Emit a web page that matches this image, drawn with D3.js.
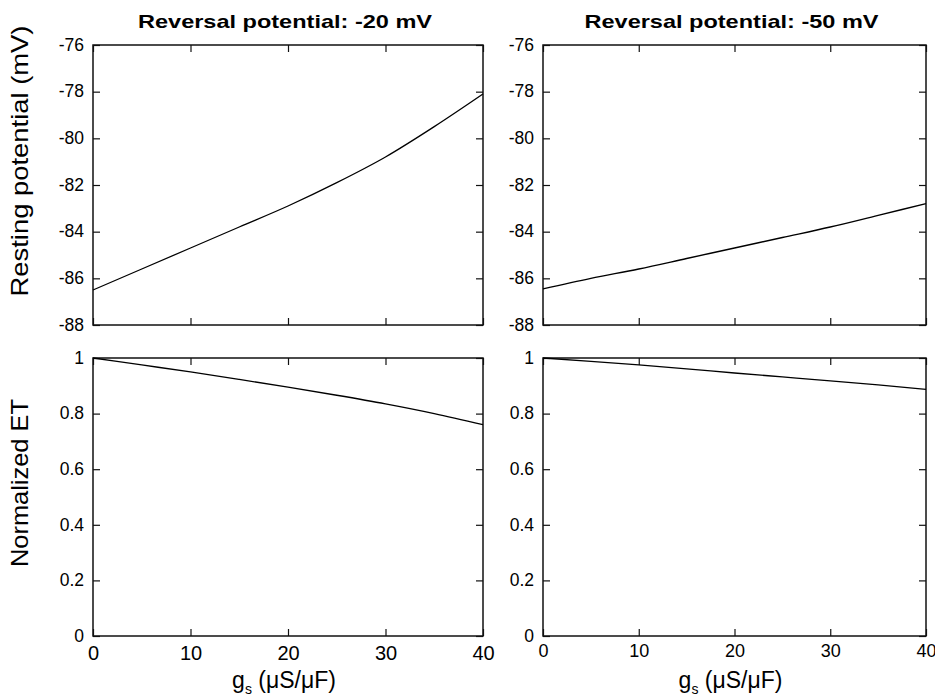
<!DOCTYPE html>
<html>
<head>
<meta charset="utf-8">
<script src="https://cdn.jsdelivr.net/npm/d3@7"></script>
<style>
  body { margin: 0; background: #fff; }
  text { font-family: Arial, "Liberation Sans", sans-serif; fill: #000; }
</style>
</head>
<body>
<div id="chart"></div>
<script>
// values
var gs = [0, 5, 10, 15, 20, 25, 30, 35, 40];
var restM20 = [-86.5, -85.6, -84.7, -83.8, -82.9, -81.9, -80.8, -79.5, -78.1];
var restM50 = [-86.45, -86.0, -85.6, -85.15, -84.7, -84.25, -83.8, -83.3, -82.8];
var etM20 = [1, 0.975, 0.95, 0.923, 0.895, 0.866, 0.835, 0.8, 0.76];
var etM50 = [1, 0.988, 0.975, 0.961, 0.946, 0.932, 0.918, 0.903, 0.887];

var titles = ["Reversal potential: -20 mV", "Reversal potential: -50 mV"];
var xTicks = [0, 10, 20, 30, 40];
var restTicks = [-76, -78, -80, -82, -84, -86, -88];
var etTicks = [0, 0.2, 0.4, 0.6, 0.8, 1];

var W = 935, H = 698;
var cols = [[93, 483], [543, 926]];
var rows = [[45, 325], [358, 636]];

var svg = d3.select("#chart").append("svg")
    .attr("width", W)
    .attr("height", H);

var panels = [
  {c: 0, r: 0, vals: restM20, dom: [-88, -76], ticks: restTicks},
  {c: 1, r: 0, vals: restM50, dom: [-88, -76], ticks: restTicks},
  {c: 0, r: 1, vals: etM20, dom: [0, 1], ticks: etTicks},
  {c: 1, r: 1, vals: etM50, dom: [0, 1], ticks: etTicks}
];

panels.forEach(function(p) {
  var x0 = cols[p.c][0], x1 = cols[p.c][1];
  var y0 = rows[p.r][0], y1 = rows[p.r][1];

  var x = d3.scaleLinear().domain([0, 40]).range([x0, x1]);
  var y = d3.scaleLinear().domain(p.dom).range([y1, y0]);

  // inward ticks on all four sides
  var left = svg.append("g")
      .attr("transform", "translate(" + x0 + ",0)")
      .call(d3.axisLeft(y).tickValues(p.ticks).tickSize(-7).tickSizeOuter(0).tickPadding(9)
        .tickFormat(function(d) { return String(d); }));
  left.selectAll("text")
      .style("font-size", "17.5px")
      .attr("dy", "0.3em");

  svg.append("g")
      .attr("transform", "translate(" + x1 + ",0)")
      .call(d3.axisRight(y).tickValues(p.ticks).tickSize(-7).tickSizeOuter(0).tickFormat(""));

  svg.append("g")
      .attr("transform", "translate(0," + y0 + ")")
      .call(d3.axisTop(x).tickValues(xTicks).tickSize(-7).tickSizeOuter(0).tickFormat(""));

  var bottom = svg.append("g")
      .attr("transform", "translate(0," + y1 + ")")
      .call(d3.axisBottom(x).tickValues(xTicks).tickSize(-7).tickSizeOuter(0).tickPadding(5)
        .tickFormat(p.r == 1 ? function(d) { return String(d); } : ""));
  bottom.selectAll("text")
      .style("font-size", p.c == 0 ? "20px" : "18px")
      .attr("dy", p.c == 0 ? "0.95em" : "0.88em");

  svg.selectAll(".domain").remove();
  svg.selectAll(".tick line").attr("stroke", "#111").attr("stroke-width", 1.2);

  // frame
  svg.append("rect")
      .attr("x", x0).attr("y", y0)
      .attr("width", x1 - x0).attr("height", y1 - y0)
      .attr("fill", "none")
      .attr("stroke", "#111")
      .attr("stroke-width", 1.5);

  var line = d3.line()
      .x(function(d, i) { return x(gs[i]); })
      .y(function(d) { return y(d); })
      .curve(d3.curveMonotoneX);

  svg.append("path")
      .datum(p.vals)
      .attr("d", line)
      .attr("fill", "none")
      .attr("stroke", "#000")
      .attr("stroke-width", 1.3);

  if (p.r == 0) {
    svg.append("text")
        .attr("x", (x0 + x1) / 2 - 3)
        .attr("y", 28)
        .attr("text-anchor", "middle")
        .attr("textLength", 294)
        .attr("lengthAdjust", "spacingAndGlyphs")
        .style("font-size", "19px")
        .style("font-weight", "bold")
        .text(titles[p.c]);
  } else {
    var xl = svg.append("text")
        .attr("x", (x0 + x1) / 2 - 4)
        .attr("y", 688)
        .attr("text-anchor", "middle")
        .style("font-size", "23px");
    xl.append("tspan").text("g");
    xl.append("tspan").attr("dy", 6).style("font-size", "14px").text("s");
    xl.append("tspan").attr("dy", -6).text(" (\u03bcS/\u03bcF)");
  }
});

// y axis titles
svg.append("text")
    .attr("transform", "translate(28,161) rotate(-90)")
    .attr("text-anchor", "middle")
    .attr("textLength", 271)
    .attr("lengthAdjust", "spacingAndGlyphs")
    .style("font-size", "24px")
    .text("Resting potential (mV)");

svg.append("text")
    .attr("transform", "translate(28,483) rotate(-90)")
    .attr("text-anchor", "middle")
    .attr("textLength", 168)
    .attr("lengthAdjust", "spacingAndGlyphs")
    .style("font-size", "24px")
    .text("Normalized ET");
</script>
</body>
</html>
